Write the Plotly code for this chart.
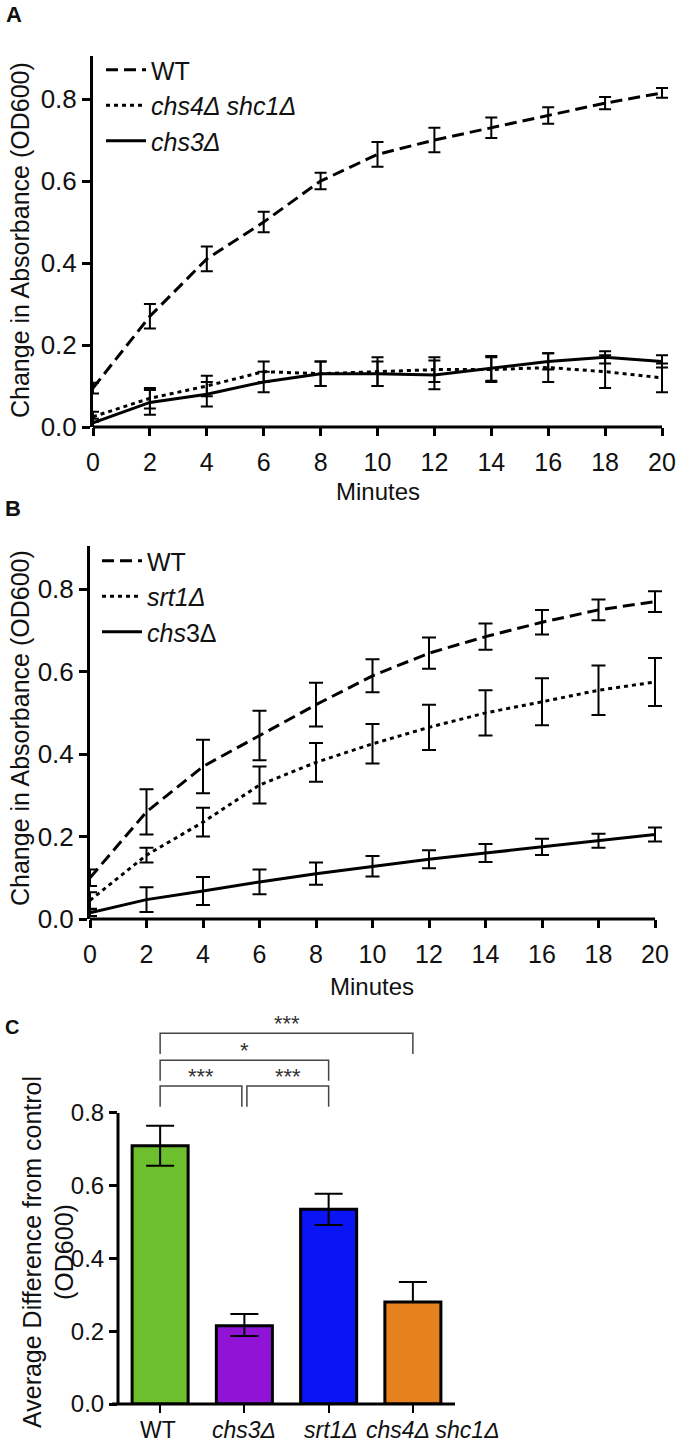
import plotly.graph_objects as go

# ---------------- data ----------------
minutes = [0, 2, 4, 6, 8, 10, 12, 14, 16, 18, 20]

# Panel A
wt_a = [0.095, 0.27, 0.41, 0.50, 0.60, 0.665, 0.70, 0.73, 0.76, 0.79, 0.815]
wt_a_err = [0.013, 0.03, 0.03, 0.025, 0.02, 0.03, 0.03, 0.025, 0.02, 0.015, 0.012]
chs4shc1_a = [0.025, 0.07, 0.10, 0.135, 0.13, 0.135, 0.14, 0.14, 0.145, 0.135, 0.12]
chs4shc1_a_err = [0.012, 0.025, 0.025, 0.025, 0.03, 0.035, 0.03, 0.03, 0.035, 0.04, 0.035]
chs3_a = [0.01, 0.06, 0.08, 0.11, 0.13, 0.13, 0.127, 0.143, 0.16, 0.17, 0.16]
chs3_a_err = [0.01, 0.03, 0.03, 0.025, 0.03, 0.03, 0.035, 0.03, 0.02, 0.015, 0.015]

# Panel B
wt_b = [0.10, 0.26, 0.37, 0.445, 0.52, 0.59, 0.645, 0.685, 0.72, 0.75, 0.77]
wt_b_err = [0.02, 0.055, 0.065, 0.06, 0.053, 0.04, 0.038, 0.032, 0.03, 0.025, 0.025]
srt1_b = [0.045, 0.155, 0.235, 0.325, 0.38, 0.425, 0.465, 0.50, 0.527, 0.555, 0.575]
srt1_b_err = [0.02, 0.018, 0.035, 0.045, 0.047, 0.048, 0.055, 0.055, 0.057, 0.06, 0.058]
chs3_b = [0.015, 0.047, 0.068, 0.09, 0.11, 0.128, 0.145, 0.16, 0.175, 0.19, 0.205]
chs3_b_err = [0.008, 0.03, 0.034, 0.03, 0.027, 0.025, 0.022, 0.022, 0.02, 0.017, 0.017]

# Panel C
strains = ["WT", "<i>chs3Δ</i>", "<i>srt1Δ</i>", "<i>chs4Δ shc1Δ</i>"]
avg_diff = [0.71, 0.215, 0.535, 0.28]
avg_err_plus = [0.055, 0.032, 0.043, 0.055]
avg_err_minus = [0.055, 0.028, 0.043, 0.0]
bar_colors = ["#6dbf2e", "#9114d6", "#0a14f5", "#e5821f"]

# significance comparisons
comp_left = [0, 1, 0, 0]
comp_right = [1, 2, 2, 3]
comp_label = ["***", "***", "*", "***"]
comp_height = [0.874, 0.874, 0.945, 1.019]

y_ticks_ab = [0, 0.2, 0.4, 0.6, 0.8]
x_ticks_ab = minutes
x_max = 20

FONT = "Liberation Sans, Arial, sans-serif"
INK = "#111111"

fig = go.Figure()

line_w = 3
dash_long = "12px,6px"
dash_dot = "4px,4px"


def add_series(x, y, err, name, dash, xa, ya, legend, cap):
    fig.add_trace(go.Scatter(
        x=x, y=y, mode="lines", name=name,
        line=dict(color="black", width=line_w, dash=dash),
        error_y=dict(type="data", array=err, visible=True, color="black",
                     thickness=2, width=cap),
        xaxis=xa, yaxis=ya, legend=legend, cliponaxis=False,
        hoverinfo="skip",
    ))


add_series(minutes, wt_a, wt_a_err, "WT", dash_long, "x", "y", "legend", 6)
add_series(minutes, chs4shc1_a, chs4shc1_a_err, "<i>chs4Δ shc1Δ</i>", dash_dot, "x", "y", "legend", 6)
add_series(minutes, chs3_a, chs3_a_err, "<i>chs3Δ</i>", "solid", "x", "y", "legend", 6)

add_series(minutes, wt_b, wt_b_err, "WT", dash_long, "x2", "y2", "legend2", 7)
add_series(minutes, srt1_b, srt1_b_err, "<i>srt1Δ</i>", dash_dot, "x2", "y2", "legend2", 7)
add_series(minutes, chs3_b, chs3_b_err, "<i>chs</i>3Δ", "solid", "x2", "y2", "legend2", 7)

fig.add_trace(go.Bar(
    x=strains, y=avg_diff, width=0.665,
    marker=dict(color=bar_colors, line=dict(color="black", width=3)),
    error_y=dict(type="data", symmetric=False, array=avg_err_plus,
                 arrayminus=avg_err_minus, color="black", thickness=2, width=14),
    xaxis="x3", yaxis="y3", showlegend=False, hoverinfo="skip",
))

W, H = 678, 1456


def px_x(p):
    return p / W


def px_y(p):
    return 1 - p / H


axis_common = dict(showgrid=False, zeroline=False, showline=True, linecolor="black",
                   linewidth=3, ticks="outside", tickcolor="black", tickwidth=3,
                   automargin=False, tickangle=0,
                   tickfont=dict(family=FONT, size=26, color=INK))


def ax(**kw):
    d = dict(axis_common)
    d.update(kw)
    return d


xt_font = dict(family=FONT, size=25, color=INK)
leg_font = dict(family=FONT, size=25, color=INK)

fig.update_layout(
    template="none",
    width=W, height=H, margin=dict(l=0, r=0, t=0, b=0, autoexpand=False),
    paper_bgcolor="white", plot_bgcolor="white",
    font=dict(family=FONT, color=INK),
    xaxis=ax(domain=[px_x(93), px_x(677)], range=[0, 20 * 584 / 569], tickvals=x_ticks_ab,
             ticklen=8, anchor="y", showline=False, tickfont=xt_font, ticklabelstandoff=5),
    yaxis=ax(domain=[px_y(427), px_y(56)], range=[0, 0.905], tickvals=y_ticks_ab,
             tickformat=".1f", ticklen=8, anchor="x"),
    xaxis2=ax(domain=[px_x(90), px_x(670)], range=[0, 20 * 580 / 565], tickvals=x_ticks_ab,
              ticklen=8, anchor="y2", showline=False, tickfont=xt_font, ticklabelstandoff=5),
    yaxis2=ax(domain=[px_y(919), px_y(546)], range=[0, 0.905], tickvals=y_ticks_ab,
              tickformat=".1f", ticklen=8, anchor="x2"),
    xaxis3=ax(domain=[px_x(118), px_x(455)], range=[-0.5, 3.5], type="category",
              ticklen=8, anchor="y3", tickwidth=2, showticklabels=False, showline=False),
    yaxis3=ax(domain=[px_y(1404), px_y(1011)], range=[0, 1.08], tickvals=y_ticks_ab,
              tickformat=".1f", ticklen=8, anchor="x3", showline=False,
              tickfont=dict(family=FONT, size=24, color=INK)),
    legend=dict(x=px_x(101), y=px_y(47), xanchor="left", yanchor="top",
                bgcolor="rgba(0,0,0,0)", font=leg_font, itemwidth=40, tracegroupgap=0),
    legend2=dict(x=px_x(97), y=px_y(538), xanchor="left", yanchor="top",
                 bgcolor="rgba(0,0,0,0)", font=leg_font, itemwidth=40, tracegroupgap=0),
)

# x axis lines for A and B (0 .. 20 only)
for xr, yr in (("x", "y domain"), ("x2", "y2 domain")):
    fig.add_shape(type="line", xref=xr, yref=yr, x0=0, x1=x_max, y0=0, y1=0,
                  line=dict(color="black", width=3))

# axis lines for panel C (y line stops at 0.8, x line starts a little left of the y axis)
fig.add_shape(type="line", xref="x3 domain", yref="y3", x0=0, x1=0, y0=0, y1=0.8,
              line=dict(color="black", width=3))
fig.add_shape(type="line", xref="x3 domain", yref="y3 domain", x0=-0.018, x1=1, y0=0, y1=0,
              line=dict(color="black", width=3))

# category labels of panel C
label_shift = [-2, 0, 2, 20]
for i, s in enumerate(strains):
    fig.add_annotation(x=i, y=px_y(1430), xref="x3", yref="paper", text=s,
                       xshift=label_shift[i], showarrow=False, yanchor="middle",
                       font=dict(family=FONT, size=23, color=INK))

# significance brackets
leg_drop = 0.057
gap = 0.03
for i in range(len(comp_label)):
    l, r, top = comp_left[i], comp_right[i], comp_height[i]
    xl = l + (gap if l > 0 else 0)
    xr = r - (gap if r == 1 else 0)
    fig.add_shape(type="path", xref="x3", yref="y3",
                  path=f"M{xl},{top - leg_drop} L{xl},{top} L{xr},{top} L{xr},{top - leg_drop}",
                  line=dict(color="#444444", width=1.5))
    fig.add_annotation(x=(xl + xr) / 2, y=top + 0.027, xref="x3", yref="y3",
                       text=comp_label[i], showarrow=False,
                       font=dict(family=FONT, size=22, color="#333333"))

annots = [
    dict(text="<b>A</b>", x=px_x(4), y=px_y(15), size=22, xanchor="left"),
    dict(text="<b>B</b>", x=px_x(3), y=px_y(508), size=22, xanchor="left"),
    dict(text="<b>C</b>", x=px_x(3), y=px_y(1027), size=20, xanchor="left"),
    dict(text="Minutes", x=px_x(378), y=px_y(491), size=24, xanchor="center"),
    dict(text="Minutes", x=px_x(372), y=px_y(986), size=24, xanchor="center"),
]
for a in annots:
    fig.add_annotation(text=a["text"], x=a["x"], y=a["y"], xref="paper", yref="paper",
                       xanchor=a["xanchor"], yanchor="middle", showarrow=False,
                       font=dict(family=FONT, size=a["size"], color=INK))

ytitles = [
    dict(text="Change in Absorbance (OD600)", x=20, y=240, size=25),
    dict(text="Change in Absorbance (OD600)", x=20, y=728, size=25),
    dict(text="Average Difference from control", x=32, y=1252, size=25),
    dict(text="(OD600)", x=64, y=1252, size=25),
]
for a in ytitles:
    fig.add_annotation(text=a["text"], x=px_x(a["x"]), y=px_y(a["y"]), xref="paper",
                       yref="paper", xanchor="center", yanchor="middle", textangle=-90,
                       showarrow=False, font=dict(family=FONT, size=a["size"], color=INK))

fig.write_html("out.html", config={"displayModeBar": False},
               post_script="document.body.style.margin='0';")
